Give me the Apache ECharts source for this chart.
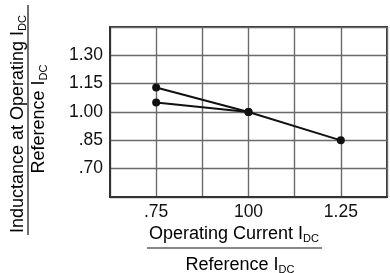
<!DOCTYPE html>
<html><head><meta charset="utf-8">
<script src="https://cdn.jsdelivr.net/npm/echarts@6/dist/echarts.min.js"></script>
<style>html,body{margin:0;padding:0;background:#fff}#c{width:390px;height:273px}</style>
</head><body><div id="c"></div>
<script>
// tick labels
const xTickValues = [0.75, 1.00, 1.25];
const xTickLabels = ['.75', '100', '1.25'];
const yTickValues = [0.70, 0.85, 1.00, 1.15, 1.30];
const yTickLabels = ['.70', '.85', '1.00', '1.15', '1.30'];
// series (x = operating/reference current, y = inductance ratio)
const upperX = [0.75, 1.00, 1.25];
const upperY = [1.13, 1.00, 0.85];
const lowerX = [0.75, 1.00];
const lowerY = [1.05, 1.00];

const FONT = '"Liberation Sans", Arial, Helvetica, sans-serif';
const INK = '#111';
const GRIDC = '#6a6a6a';
const BORDER = '#333';

function pick(values, labels, v) {
  for (let i = 0; i < values.length; i++) if (Math.abs(values[i] - v) < 1e-6) return labels[i];
  return '';
}
const zip = (xs, ys) => xs.map((x, i) => [x, ys[i]]);

const chart = echarts.init(document.getElementById('c'), null, {renderer: 'canvas'});
const titleRich = {
  m: {fontSize: 18, fontFamily: FONT, color: INK},
  s: {fontSize: 11, fontFamily: FONT, color: INK, padding: [9, 0, 0, 0]}
};
chart.setOption({
  animation: false,
  backgroundColor: '#fff',
  grid: {left: 110, top: 27, width: 282, height: 170, containLabel: false,
    show: true, borderColor: BORDER, borderWidth: 2, backgroundColor: 'transparent'},
  xAxis: {
    type: 'value', min: 0.625, max: 1.375, interval: 0.125,
    axisLine: {show: true, onZero: false, lineStyle: {color: BORDER, width: 2}},
    axisTick: {show: false},
    splitLine: {show: true, lineStyle: {color: GRIDC, width: 1.4}},
    axisLabel: {margin: 6, fontSize: 17.5, fontFamily: FONT, color: INK,
      formatter: v => pick(xTickValues, xTickLabels, v)}
  },
  yAxis: {
    type: 'value', min: 0.55, max: 1.45, interval: 0.15,
    axisLine: {show: true, lineStyle: {color: BORDER, width: 2}},
    axisTick: {show: false},
    splitLine: {show: true, lineStyle: {color: GRIDC, width: 1.4}},
    axisLabel: {margin: 7, fontSize: 17.5, fontFamily: FONT, color: INK,
      formatter: v => pick(yTickValues, yTickLabels, v)}
  },
  series: [
    {type: 'line', data: zip(upperX, upperY), symbol: 'circle', symbolSize: 8,
     itemStyle: {color: INK}, lineStyle: {color: INK, width: 2}},
    {type: 'line', data: zip(lowerX, lowerY), symbol: 'circle', symbolSize: 8,
     itemStyle: {color: INK}, lineStyle: {color: INK, width: 2}}
  ],
  graphic: [
    {type: 'text', x: 234, y: 234, style: {text: '{m|Operating Current I}{s|DC}', rich: titleRich, align: 'center', verticalAlign: 'middle'}},
    {type: 'line', shape: {x1: 147, y1: 248, x2: 322, y2: 248}, style: {stroke: INK, lineWidth: 1.2}},
    {type: 'text', x: 240, y: 265, style: {text: '{m|Reference I}{s|DC}', rich: titleRich, align: 'center', verticalAlign: 'middle'}},
    {type: 'text', x: 18, y: 124, rotation: Math.PI / 2, style: {text: '{m|Inductance at Operating I}{s|DC}', rich: titleRich, align: 'center', verticalAlign: 'middle'}},
    {type: 'line', shape: {x1: 28, y1: 5, x2: 28, y2: 235}, style: {stroke: INK, lineWidth: 1.2}},
    {type: 'text', x: 39, y: 119, rotation: Math.PI / 2, style: {text: '{m|Reference I}{s|DC}', rich: titleRich, align: 'center', verticalAlign: 'middle'}}
  ]
});
</script></body></html>
